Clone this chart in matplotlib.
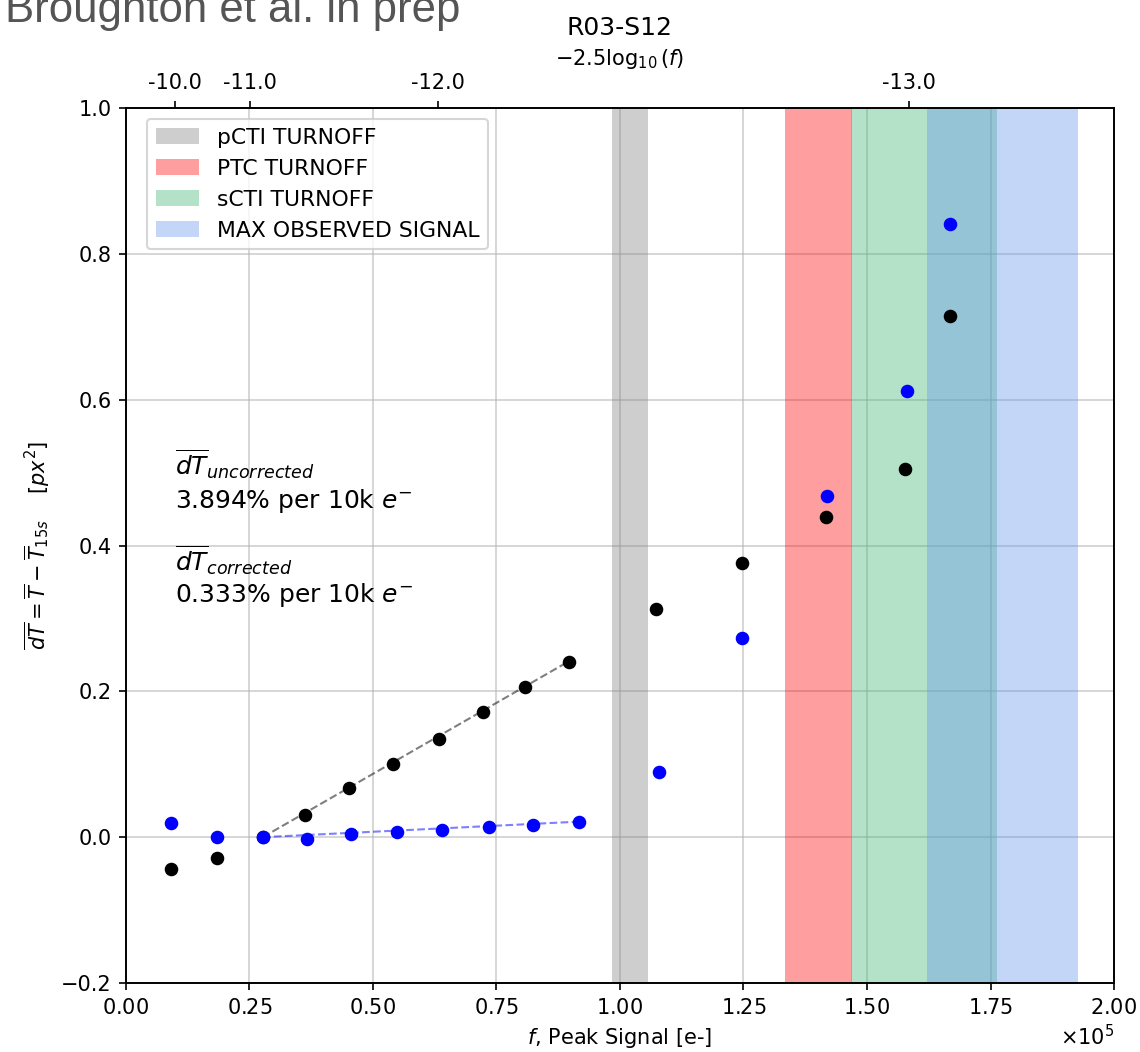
import matplotlib
matplotlib.use('Agg')
import matplotlib.pyplot as plt
import numpy as np

# peak signal [e-] and mean dT [px^2]
sinal_unc = np.array([0.091, 0.184, 0.277, 0.362, 0.451, 0.541, 0.634, 0.723,
                      0.808, 0.896, 1.073, 1.247, 1.417, 1.577, 1.668]) * 1e5
dT_unc = np.array([-0.043, -0.029, 0.000, 0.031, 0.067, 0.101, 0.135, 0.171,
                   0.206, 0.240, 0.313, 0.376, 0.439, 0.505, 0.715])

sinal_cor = np.array([0.091, 0.184, 0.277, 0.367, 0.456, 0.548, 0.640, 0.734,
                      0.824, 0.917, 1.079, 1.247, 1.419, 1.580, 1.668]) * 1e5
dT_cor = np.array([0.019, 0.000, 0.000, -0.003, 0.005, 0.007, 0.010, 0.014,
                   0.016, 0.021, 0.089, 0.273, 0.468, 0.612, 0.841])

# slopes per 10k e- (from the fit quoted in the text)
declive_unc = 0.03894
declive_cor = 0.00333
fit_ini, fit_fim = 2, 9

# turnoff bands [e-]
faixas = [('pCTI TURNOFF', 0.984e5, 1.057e5, 'grey'),
          ('PTC TURNOFF', 1.335e5, 1.470e5, 'red'),
          ('sCTI TURNOFF', 1.468e5, 1.763e5, 'mediumseagreen'),
          ('MAX OBSERVED SIGNAL', 1.621e5, 1.928e5, 'cornflowerblue')]

mags_topo = [-10.0, -11.0, -12.0, -13.0]

fig = plt.figure(figsize=(7.6, 1052 / 150), dpi=150)
ax = fig.add_axes([0.1105, 0.0656, 0.8667, 0.8317])

for nome, x0, x1, cor in faixas:
    ax.axvspan(x0, x1, color=cor, alpha=0.38, lw=0, label=nome)

ax.plot(sinal_unc, dT_unc, 'ko', ms=5.5, zorder=3)
ax.plot(sinal_cor, dT_cor, 'bo', ms=5.5, zorder=3)

xx = sinal_unc[fit_ini:fit_fim + 1]
ax.plot(xx, declive_unc * (xx - xx[0]) / 1e4, 'k--', lw=1, alpha=0.5, zorder=2)
xx = sinal_cor[fit_ini:fit_fim + 1]
ax.plot(xx, declive_cor * (xx - xx[0]) / 1e4, 'b--', lw=1, alpha=0.5, zorder=2)

ax.text(0.10e5, 0.497, r'$\overline{dT}_{uncorrected}$', fontsize=12)
ax.text(0.10e5, 0.451, '%.3f%% per 10k $e^{-}$' % (declive_unc * 100), fontsize=12)
ax.text(0.10e5, 0.366, r'$\overline{dT}_{corrected}$', fontsize=12)
ax.text(0.10e5, 0.322, '%.3f%% per 10k $e^{-}$' % (declive_cor * 100), fontsize=12)

ax.set_xlim(0, 2e5)
ax.set_ylim(-0.2, 1.0)
ax.ticklabel_format(axis='x', style='sci', scilimits=(0, 0), useMathText=True)
ax.grid(True, alpha=0.6)
ax.set_axisbelow(True)
ax.set_xlabel('$f$, Peak Signal [e-]')
ax.set_ylabel(r'$\overline{dT} = \overline{T} - \overline{T}_{15s}$    $[px^2]$')
ax.legend(loc='upper left', bbox_to_anchor=(0.01, 1.0), fontsize=10.5)

# top axis in magnitudes
ax2 = ax.twiny()
ax2.set_xlim(ax.get_xlim())
ax2.set_xticks([10 ** (m / -2.5) for m in mags_topo])
ax2.set_xticklabels(['%.1f' % m for m in mags_topo])
ax2.set_xlabel(r'$-2.5\log_{10}(f)$')
ax2.set_title('R03-S12')

fig.text(0.004, 1 - 22 / 1052, 'Broughton et al. in prep', fontsize=21,
         family='Liberation Sans', color='#555555', va='baseline')

fig.savefig('out.png', dpi=150)
